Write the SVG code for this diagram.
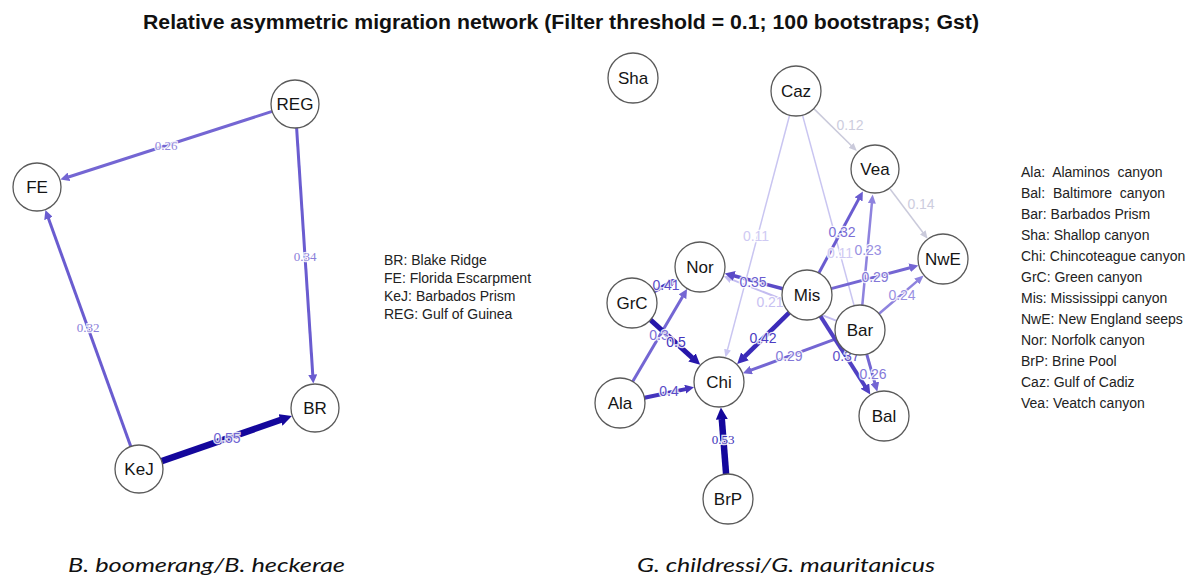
<svg xmlns="http://www.w3.org/2000/svg" width="1200" height="579" viewBox="0 0 1200 579">
  <style>
    .node circle { fill: #ffffff; stroke: #5a5a5a; stroke-width: 1.3; }
    .node text { font-family: "Liberation Sans", Arial, sans-serif; font-size: 17px; fill: #151515; text-anchor: middle; }
    .edge { fill: none; stroke-linecap: butt; }
    .lbl { font-family: "Liberation Sans", Arial, sans-serif; font-size: 14px; text-anchor: middle; stroke: #ffffff; stroke-width: 2.5; stroke-opacity: 0.85; paint-order: stroke; }
    .lbl.serif { font-family: "Liberation Serif", "Times New Roman", serif; font-size: 13px; }
    .legend { font-family: "Liberation Sans", Arial, sans-serif; font-size: 14px; fill: #222222; }
    .title { font-family: "Liberation Sans", Arial, sans-serif; font-size: 20px; font-weight: bold; fill: #111111; }
    .caption { font-family: Lato, "Open Sans", sans-serif; font-size: 20px; font-style: italic; fill: #111111; }
    .w1 { stroke: #14079c; stroke-width: 6.5; }
    .w2 { stroke: #2616aa; stroke-width: 5; }
    .w3 { stroke: #3b2bb9; stroke-width: 4.5; }
    .w4 { stroke: #4534bd; stroke-width: 4; }
    .w5 { stroke: #5040c3; stroke-width: 4; }
    .w6 { stroke: #5a4ac7; stroke-width: 3.5; }
    .w7 { stroke: #6a5cd0; stroke-width: 3; }
    .w8 { stroke: #7466d3; stroke-width: 3; }
    .w9 { stroke: #8e83de; stroke-width: 2.5; }
    .w10 { stroke: #c3bcf0; stroke-width: 2; }
    .w11 { stroke: #c9c5f1; stroke-width: 1.5; }
    .w12 { stroke: #cacadb; stroke-width: 1.5; }
  </style>
  <defs>
    <marker id="a1" viewBox="0 0 12 12" markerWidth="12" markerHeight="12" refX="0.5" refY="6" orient="auto" markerUnits="userSpaceOnUse"><path d="M0,0 L12,6 L0,12 z" fill="#14079c"/></marker>
    <marker id="a2" viewBox="0 0 11 11" markerWidth="11" markerHeight="11" refX="0.5" refY="5.5" orient="auto" markerUnits="userSpaceOnUse"><path d="M0,0 L11,5.5 L0,11 z" fill="#2616aa"/></marker>
    <marker id="a3" viewBox="0 0 11 11" markerWidth="11" markerHeight="11" refX="0.5" refY="5.5" orient="auto" markerUnits="userSpaceOnUse"><path d="M0,0 L11,5.5 L0,11 z" fill="#3b2bb9"/></marker>
    <marker id="a4" viewBox="0 0 9 9" markerWidth="9" markerHeight="9" refX="0.5" refY="4.5" orient="auto" markerUnits="userSpaceOnUse"><path d="M0,0 L9,4.5 L0,9 z" fill="#4534bd"/></marker>
    <marker id="a5" viewBox="0 0 10 10" markerWidth="10" markerHeight="10" refX="0.5" refY="5" orient="auto" markerUnits="userSpaceOnUse"><path d="M0,0 L10,5 L0,10 z" fill="#5040c3"/></marker>
    <marker id="a6" viewBox="0 0 10 10" markerWidth="10" markerHeight="10" refX="0.5" refY="5" orient="auto" markerUnits="userSpaceOnUse"><path d="M0,0 L10,5 L0,10 z" fill="#5a4ac7"/></marker>
    <marker id="a7" viewBox="0 0 9 9" markerWidth="9" markerHeight="9" refX="0.5" refY="4.5" orient="auto" markerUnits="userSpaceOnUse"><path d="M0,0 L9,4.5 L0,9 z" fill="#6a5cd0"/></marker>
    <marker id="a8" viewBox="0 0 9 9" markerWidth="9" markerHeight="9" refX="0.5" refY="4.5" orient="auto" markerUnits="userSpaceOnUse"><path d="M0,0 L9,4.5 L0,9 z" fill="#7466d3"/></marker>
    <marker id="a9" viewBox="0 0 9 8" markerWidth="9" markerHeight="8" refX="0.5" refY="4" orient="auto" markerUnits="userSpaceOnUse"><path d="M0,0 L9,4 L0,8 z" fill="#8e83de"/></marker>
    <marker id="a10" viewBox="0 0 8 8" markerWidth="8" markerHeight="8" refX="0.5" refY="4" orient="auto" markerUnits="userSpaceOnUse"><path d="M0,0 L8,4 L0,8 z" fill="#c3bcf0"/></marker>
    <marker id="a11" viewBox="0 0 8 7" markerWidth="8" markerHeight="7" refX="0.5" refY="3.5" orient="auto" markerUnits="userSpaceOnUse"><path d="M0,0 L8,3.5 L0,7 z" fill="#c9c5f1"/></marker>
    <marker id="a12" viewBox="0 0 8 7" markerWidth="8" markerHeight="7" refX="0.5" refY="3.5" orient="auto" markerUnits="userSpaceOnUse"><path d="M0,0 L8,3.5 L0,7 z" fill="#cacadb"/></marker>
  </defs>

  <rect width="1200" height="579" fill="#ffffff"/>

  <text class="title" x="143" y="29" textLength="836" lengthAdjust="spacingAndGlyphs">Relative asymmetric migration network (Filter threshold = 0.1; 100 bootstraps; Gst)</text>

  <!-- Left network: connectors -->
  <g id="edges-left">
    <line class="edge w8" x1="272.2" y1="111.4" x2="68.5" y2="177.0" marker-end="url(#a8)"/>
    <line class="edge w7" x1="296.6" y1="127.9" x2="312.8" y2="375.1" marker-end="url(#a7)"/>
    <line class="edge w7" x1="130.8" y1="446.4" x2="48.3" y2="218.1" marker-end="url(#a7)"/>
    <line class="edge w1" x1="161.7" y1="461.1" x2="281.0" y2="419.8" marker-end="url(#a1)"/>
    <text class="lbl serif" x="166" y="150" fill="#8f86dc">0.26</text>
    <text class="lbl serif" x="305" y="261" fill="#8a80da">0.34</text>
    <text class="lbl serif" x="88" y="332" fill="#8a80da">0.32</text>
    <text class="lbl" x="227" y="443" fill="#6e62d2">0.55</text>
  </g>

  <!-- Left network: nodes -->
  <g id="node-REG" class="node"><circle cx="295" cy="104" r="24"/><text x="295" y="110">REG</text></g>
  <g id="node-FE" class="node"><circle cx="37" cy="187" r="24"/><text x="37" y="193">FE</text></g>
  <g id="node-BR" class="node"><circle cx="315" cy="408" r="24"/><text x="315" y="414">BR</text></g>
  <g id="node-KeJ" class="node"><circle cx="139" cy="469" r="24"/><text x="139" y="475">KeJ</text></g>

  <!-- Left legend -->
  <g id="legend-left" class="legend">
    <text x="384" y="265">BR: Blake Ridge</text>
    <text x="384" y="283">FE: Florida Escarpment</text>
    <text x="384" y="300.5">KeJ: Barbados Prism</text>
    <text x="384" y="318.5">REG: Gulf of Guinea</text>
  </g>

  <!-- Right network: connectors (faint ones first) -->
  <g id="edges-right">
    <line class="edge w11" x1="789.6" y1="115.2" x2="727.4" y2="350.1" marker-end="url(#a11)"/>
    <line class="edge w12" x1="813.8" y1="108.6" x2="851.5" y2="145.8" marker-end="url(#a12)"/>
    <line class="edge w11" x1="802.5" y1="115.1" x2="875.4" y2="384.2" marker-end="url(#a11)"/>
    <line class="edge w10" x1="836.8" y1="320.9" x2="730.7" y2="279.1" marker-end="url(#a10)"/>
    <line class="edge w12" x1="890.1" y1="189.0" x2="923.1" y2="232.7" marker-end="url(#a12)"/>
    <line class="edge w9" x1="862.3" y1="305.1" x2="871.9" y2="202.9" marker-end="url(#a9)"/>
    <line class="edge w9" x1="879.0" y1="313.7" x2="917.2" y2="281.1" marker-end="url(#a9)"/>
    <line class="edge w8" x1="831.2" y1="288.6" x2="910.1" y2="267.7" marker-end="url(#a8)"/>
    <line class="edge w8" x1="836.5" y1="338.7" x2="750.9" y2="370.2" marker-end="url(#a8)"/>
    <line class="edge w8" x1="866.7" y1="354.1" x2="874.9" y2="383.2" marker-end="url(#a8)"/>
    <line class="edge w8" x1="632.7" y1="381.4" x2="682.7" y2="296.4" marker-end="url(#a8)"/>
    <line class="edge w7" x1="818.9" y1="273.0" x2="858.8" y2="198.9" marker-end="url(#a7)"/>
    <line class="edge w6" x1="782.8" y1="288.7" x2="733.9" y2="275.8" marker-end="url(#a6)"/>
    <line class="edge w5" x1="820.4" y1="316.1" x2="865.2" y2="386.5" marker-end="url(#a5)"/>
    <line class="edge w4" x1="654.1" y1="291.3" x2="669.9" y2="282.9" marker-end="url(#a4)"/>
    <line class="edge w4" x1="644.5" y1="397.8" x2="685.7" y2="389.1" marker-end="url(#a4)"/>
    <line class="edge w3" x1="789.2" y1="312.6" x2="744.6" y2="356.7" marker-end="url(#a3)"/>
    <line class="edge w2" x1="650.5" y1="319.8" x2="692.4" y2="357.8" marker-end="url(#a2)"/>
    <line class="edge w1" x1="726.1" y1="474.1" x2="721.8" y2="418.9" marker-end="url(#a1)"/>

    <text class="lbl" x="756" y="241" fill="#cfcaf3">0.11</text>
    <text class="lbl" x="850" y="130" fill="#cdcdde">0.12</text>
    <text class="lbl" x="840" y="258" fill="#cfcaf3">0.11</text>
    <text class="lbl" x="770" y="307" fill="#c8c1f2">0.21</text>
    <text class="lbl" x="921" y="209" fill="#cdcdde">0.14</text>
    <text class="lbl" x="868" y="255" fill="#998fe2">0.23</text>
    <text class="lbl" x="902" y="300" fill="#998fe2">0.24</text>
    <text class="lbl" x="875" y="282" fill="#8478d8">0.29</text>
    <text class="lbl" x="789" y="361" fill="#8478d8">0.29</text>
    <text class="lbl" x="873" y="379" fill="#8478d8">0.26</text>
    <text class="lbl" x="659" y="340" fill="#7a6ed6">0.3</text>
    <text class="lbl" x="842" y="237" fill="#7a6ed6">0.32</text>
    <text class="lbl" x="753" y="287" fill="#6a5cd0">0.35</text>
    <text class="lbl" x="846" y="361" fill="#5e50c9">0.37</text>
    <text class="lbl" x="666" y="290" fill="#5a4cc8">0.41</text>
    <text class="lbl" x="669" y="396" fill="#5a4cc8">0.4</text>
    <text class="lbl" x="763" y="343" fill="#4b3cc2">0.42</text>
    <text class="lbl" x="676" y="347" fill="#4536bd">0.5</text>
    <text class="lbl serif" x="723" y="444" fill="#3d30b8">0.53</text>
  </g>

  <!-- Right network: nodes -->
  <g id="node-Sha" class="node"><circle cx="633" cy="78" r="25"/><text x="633" y="84">Sha</text></g>
  <g id="node-Caz" class="node"><circle cx="796" cy="91" r="25"/><text x="796" y="97">Caz</text></g>
  <g id="node-Vea" class="node"><circle cx="875" cy="169" r="24"/><text x="875" y="175">Vea</text></g>
  <g id="node-NwE" class="node"><circle cx="943" cy="259" r="25"/><text x="943" y="265">NwE</text></g>
  <g id="node-Nor" class="node"><circle cx="700" cy="267" r="25"/><text x="700" y="273">Nor</text></g>
  <g id="node-Mis" class="node"><circle cx="807" cy="295" r="25"/><text x="807" y="301">Mis</text></g>
  <g id="node-Bar" class="node"><circle cx="860" cy="330" r="25"/><text x="860" y="336">Bar</text></g>
  <g id="node-GrC" class="node"><circle cx="632" cy="303" r="25"/><text x="632" y="309">GrC</text></g>
  <g id="node-Chi" class="node"><circle cx="719" cy="382" r="25"/><text x="719" y="388">Chi</text></g>
  <g id="node-Ala" class="node"><circle cx="620" cy="403" r="25"/><text x="620" y="409">Ala</text></g>
  <g id="node-Bal" class="node"><circle cx="884" cy="416" r="25"/><text x="884" y="422">Bal</text></g>
  <g id="node-BrP" class="node"><circle cx="728" cy="499" r="25"/><text x="728" y="505">BrP</text></g>

  <!-- Right legend -->
  <g id="legend-right" class="legend">
    <text x="1021" y="176.5" xml:space="preserve">Ala:  Alaminos  canyon</text>
    <text x="1021" y="197.5" xml:space="preserve">Bal:  Baltimore  canyon</text>
    <text x="1021" y="218.5">Bar: Barbados Prism</text>
    <text x="1021" y="239.5">Sha: Shallop canyon</text>
    <text x="1021" y="260.5">Chi: Chincoteague canyon</text>
    <text x="1021" y="281.5">GrC: Green canyon</text>
    <text x="1021" y="302.5">Mis: Mississippi canyon</text>
    <text x="1021" y="323.5">NwE: New England seeps</text>
    <text x="1021" y="344.5">Nor: Norfolk canyon</text>
    <text x="1021" y="365.5">BrP: Brine Pool</text>
    <text x="1021" y="386.5">Caz: Gulf of Cadiz</text>
    <text x="1021" y="407.5">Vea: Veatch canyon</text>
  </g>

  <text class="caption" x="68" y="572" textLength="277" lengthAdjust="spacingAndGlyphs">B. boomerang/B. heckerae</text>
  <text class="caption" x="637" y="572" textLength="298" lengthAdjust="spacingAndGlyphs">G. childressi/G. mauritanicus</text>
</svg>
